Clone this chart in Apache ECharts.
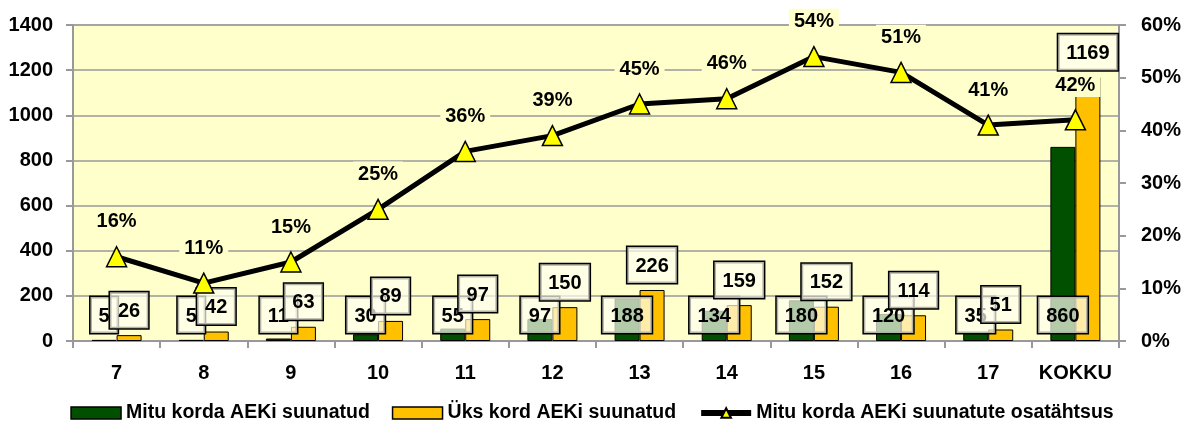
<!DOCTYPE html>
<html>
<head>
<meta charset="utf-8">
<script src="https://cdn.jsdelivr.net/npm/echarts@6/dist/echarts.min.js"></script>
<style>
  html, body { margin: 0; padding: 0; background: #fff; }
  #chart { width: 1184px; height: 432px; }
</style>
</head>
<body>
<div id="chart"></div>
<script>
var categories = ['7', '8', '9', '10', '11', '12', '13', '14', '15', '16', '17', 'KOKKU'];
var mituKorda = [5, 5, 11, 30, 55, 97, 188, 134, 180, 120, 35, 860];
var ksKord = [26, 42, 63, 89, 97, 150, 226, 159, 152, 114, 51, 1169];
var osatahtsus = [16, 11, 15, 25, 36, 39, 45, 46, 54, 51, 41, 42];

var FONT = "'Liberation Sans', Arial, sans-serif";

var myChart = echarts.init(document.getElementById('chart'));

var boxLabel = {
    show: true,
    color: '#000',
    fontFamily: FONT,
    fontWeight: 'bold',
    fontSize: 20,
    backgroundColor: 'rgba(255,255,240,0.7)',
    borderColor: '#000',
    borderWidth: 1.5,
    padding: [9, 8, 7, 8]
};

var option = {
    backgroundColor: '#fff',
    animation: false,
    textStyle: { fontFamily: FONT },
    grid: {
        show: true,
        left: 73,
        right: 62,
        top: 25,
        bottom: 91,
        backgroundColor: '#ffffcc',
        borderColor: '#999',
        borderWidth: 1
    },
    legend: {
        bottom: 4,
        left: 'center',
        itemWidth: 50,
        itemHeight: 12,
        itemGap: 22,
        textStyle: { color: '#000', fontWeight: 'bold', fontSize: 19.5, fontFamily: FONT },
        data: [
            { name: 'Mitu korda AEKi suunatud', icon: 'rect', itemStyle: { borderColor: '#000', borderWidth: 1.5 } },
            { name: 'Üks kord AEKi suunatud', icon: 'rect', itemStyle: { borderColor: '#000', borderWidth: 1.5 } },
            { name: 'Mitu korda AEKi suunatute osatähtsus', lineStyle: { width: 6, color: '#000' } }
        ]
    },
    xAxis: {
        type: 'category',
        data: categories,
        axisLine: { lineStyle: { color: '#999', width: 2 } },
        axisTick: { show: true, length: 7, lineStyle: { color: '#999', width: 2 } },
        axisLabel: { color: '#000', fontWeight: 'bold', fontSize: 20, margin: 22, interval: 0, fontFamily: FONT }
    },
    yAxis: [{
        type: 'value',
        min: 0,
        max: 1400,
        interval: 200,
        axisLine: { show: true, lineStyle: { color: '#999', width: 2 } },
        axisTick: { show: true, length: 7, lineStyle: { color: '#999', width: 2 } },
        splitLine: { lineStyle: { color: '#999', width: 1.5 } },
        axisLabel: { color: '#000', fontWeight: 'bold', fontSize: 20, margin: 20, fontFamily: FONT,
            formatter: function (v) { return String(v); } }
    }, {
        type: 'value',
        min: 0,
        max: 60,
        interval: 10,
        position: 'right',
        axisLine: { show: true, lineStyle: { color: '#999', width: 2 } },
        axisTick: { show: true, length: 7, lineStyle: { color: '#999', width: 2 } },
        splitLine: { show: false },
        axisLabel: { color: '#000', fontWeight: 'bold', fontSize: 20, margin: 22, fontFamily: FONT, formatter: '{value}%' }
    }],
    series: [{
        name: 'Mitu korda AEKi suunatud',
        type: 'bar',
        data: mituKorda,
        barWidth: 25,
        barGap: '0%',
        itemStyle: { color: '#005000', borderColor: '#000', borderWidth: 1 },
        label: Object.assign({}, boxLabel, { position: 'insideBottom', distance: 8 }),
        z: 2
    }, {
        name: 'Üks kord AEKi suunatud',
        type: 'bar',
        data: ksKord,
        barWidth: 25,
        itemStyle: { color: '#ffc000', borderColor: '#000', borderWidth: 1 },
        label: Object.assign({}, boxLabel, { position: 'top', distance: 7 }),
        z: 2
    }, {
        name: 'Mitu korda AEKi suunatute osatähtsus',
        type: 'line',
        yAxisIndex: 1,
        data: osatahtsus,
        symbol: 'triangle',
        symbolSize: 20,
        lineStyle: { color: '#000', width: 5 },
        itemStyle: { color: '#ffff00', borderColor: '#000', borderWidth: 1.5 },
        label: {
            show: true,
            position: 'top',
            distance: 12,
            formatter: '{c}%',
            color: '#000',
            fontWeight: 'bold',
            fontSize: 20,
            fontFamily: FONT,
            backgroundColor: '#ffffcc',
            padding: [3, 5, 2, 5]
        },
        z: 4
    }]
};

myChart.setOption(option);
</script>
</body>
</html>
